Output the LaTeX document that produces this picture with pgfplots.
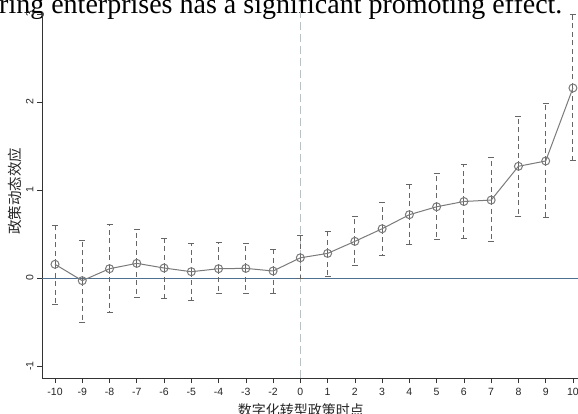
\documentclass[border=0pt]{standalone}
\usepackage{pgfplots}
\pgfplotsset{compat=1.18}
\usepackage{pgfplotstable}
\usepackage{fontspec}
\setmainfont{Liberation Sans}
\newfontfamily\cjk{Noto Sans CJK SC}
\newfontfamily\serifont{Liberation Serif}
\definecolor{ptgray}{HTML}{7A7A7A}
\definecolor{cigray}{HTML}{666666}
\definecolor{zeroblue}{HTML}{4F7191}
\definecolor{vgray}{HTML}{B8C2C4}
\definecolor{axisgray}{HTML}{333333}

\pgfplotstableread{
idx lab y ep em
0  -10  0.156 0.444 0.456
1  -9  -0.030 0.460 0.470
2  -8   0.106 0.504 0.496
3  -7   0.167 0.383 0.387
4  -6   0.114 0.336 0.344
5  -5   0.072 0.318 0.322
6  -4   0.106 0.294 0.286
7  -3   0.110 0.280 0.280
8  -2   0.080 0.240 0.250
9   0   0.230 0.250 0.230
10  1   0.280 0.250 0.260
11  2   0.417 0.283 0.277
12  3   0.560 0.300 0.300
13  4   0.720 0.340 0.340
14  5   0.810 0.380 0.370
15  6   0.870 0.420 0.420
16  7   0.886 0.484 0.476
17  8   1.270 0.570 0.570
18  9   1.330 0.650 0.640
19  10  2.160 0.830 0.820
}\effects

\begin{document}
\begin{tikzpicture}[x=1pt,y=1pt]
\useasboundingbox (0,0) rectangle (578,413);
\clip (0,0) rectangle (578,413);
\node[anchor=base west, inner sep=0pt, font=\serifont\fontsize{28}{30}\selectfont] at (-1,399) {ring enterprises has a significant promoting effect.};
\begin{axis}[
  at={(42pt,35pt)}, anchor=south west,
  scale only axis,
  width=547.3pt, height=365.7pt,
  xmin=-0.477, xmax=19.6,
  ymin=-1.136, ymax=3.02,
  axis x line*=bottom, axis y line*=left,
  axis line style={axisgray, line width=1pt, -},
  xtick={0,...,19},
  xticklabels={-10,-9,-8,-7,-6,-5,-4,-3,-2,0,1,2,3,4,5,6,7,8,9,10},
  ytick={-1,0,1,2,3},
  tick align=outside,
  major tick length=5pt,
  tick style={axisgray, line width=0.6pt},
  /pgf/number format/assume math mode=true,
  ticklabel style={font=\fontsize{10.5}{12}\selectfont, text=black!85},
  xticklabel style={yshift=-1.5pt},
  yticklabel style={rotate=90, anchor=south},
  xlabel={\cjk 数字化转型政策时点},
  ylabel={\cjk 政策动态效应},
  xlabel style={font=\fontsize{14}{16}\selectfont, text=black!85, at={(axis description cs:0.473,0)}, anchor=north, yshift=-22.5pt},
  ylabel style={font=\fontsize{14.5}{16}\selectfont, text=black!85, at={(axis description cs:-0.0493,0.511)}, anchor=center},
  clip=false,
]
% zero line
\addplot[zeroblue, line width=0.9pt, forget plot] coordinates {(-0.477,0) (19.6,0)};
% vertical reference line at period 0
\addplot[vgray, line width=1pt, dash pattern=on 8pt off 4pt, forget plot] coordinates {(9,-1.136) (9,3.02)};
% confidence intervals
\addplot[draw=none, mark=none,
  error bars/.cd, y dir=both, y explicit,
  error bar style={cigray, line width=1pt, dash pattern=on 5pt off 3.5pt},
  error mark options={rotate=90, mark size=3pt, solid, cigray, line width=1pt}]
  table[x=idx, y=y, y error plus=ep, y error minus=em] {\effects};
% point estimates
\addplot[ptgray, line width=1pt, mark=o, mark size=4pt, mark options={solid, ptgray, line width=1pt}]
  table[x=idx, y=y] {\effects};
\end{axis}
\end{tikzpicture}
\end{document}
